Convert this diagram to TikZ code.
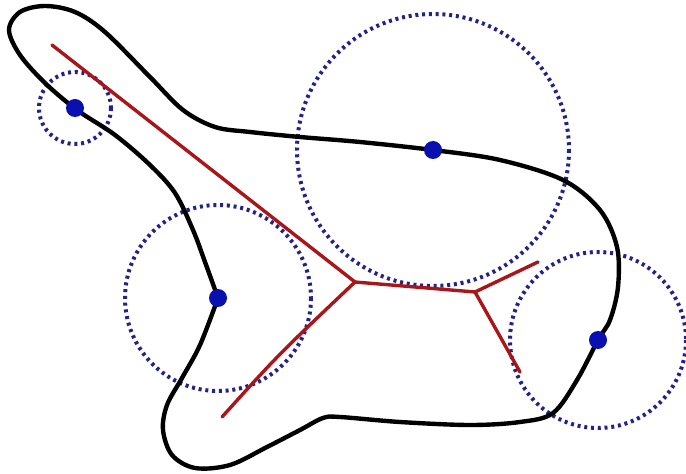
\documentclass[tikz,border=0pt]{standalone}
\usepackage{xcolor}
\usepackage{tikz}
\usetikzlibrary{calc}
\definecolor{skeleton}{HTML}{A8161A}
\definecolor{rim}{HTML}{22228A}
\definecolor{contact}{HTML}{0A0FB0}
\tikzset{
  outline/.style={line width=4.4pt, draw=black, line join=round, line cap=round},
  axisline/.style={line width=3.4pt, draw=skeleton, line join=round, line cap=round},
  ballrim/.style={line width=4pt, draw=rim, dash pattern=on 3pt off 3.8pt},
  contactdot/.style={fill=contact}
}

\begin{document}
\begin{tikzpicture}[x=1bp,y=-1bp]
\useasboundingbox (0,0) rectangle (686,474);
\fill[white] (0,0) rectangle (686,474);

% centres of the maximal balls (they sit on the curve)
\coordinate (tipc) at (75,108);
\coordinate (topc) at (433,150);
\coordinate (leftc) at (218,298);
\coordinate (rightc) at (598,340);

% medial axis points
\coordinate (tip) at (52,45);
\coordinate (fork) at (355,282);
\coordinate (knot) at (475,292);
\coordinate (lowend) at (222,417);
\coordinate (upend) at (538,262);
\coordinate (dropend) at (520,372);

% dotted balls
\draw[ballrim] (tipc) circle (36);
\draw[ballrim] (topc) circle (136);
\draw[ballrim] (leftc) circle (93);
\draw[ballrim] (rightc) circle (88);

% medial axis
\draw[axisline] (tip) -- (fork) -- (knot) -- (upend);
\draw[axisline] (knot) -- (dropend);
\draw[axisline] (fork) .. controls (278,355) .. (lowend);

% boundary curve, corner kept at leftc
\draw[outline] plot[smooth, tension=0.55] coordinates {
  (218,298) (205,262) (193,230) (175,193) (150,165) (115,135) (77,110)
  (45,83) (20,55) (9,30) (20,12) (45,6) (75,12) (105,32) (150,77)
  (183,110) (215,127) (250,132) (300,137) (360,142) (433,150) (500,160)
  (563,180) (600,210) (617,247) (618,287) (610,320) (598,340) (577,380)
  (553,413) (520,422) (470,425) (400,422) (340,417) (323,418) (300,430)
  (267,447) (230,465) (195,468) (172,455) (163,430) (167,405) (182,378)
  (200,345) (218,298)};

% contact points
\foreach \c in {tipc,topc,leftc,rightc}
  \fill[contactdot] (\c) circle (9);

\end{tikzpicture}
\end{document}
